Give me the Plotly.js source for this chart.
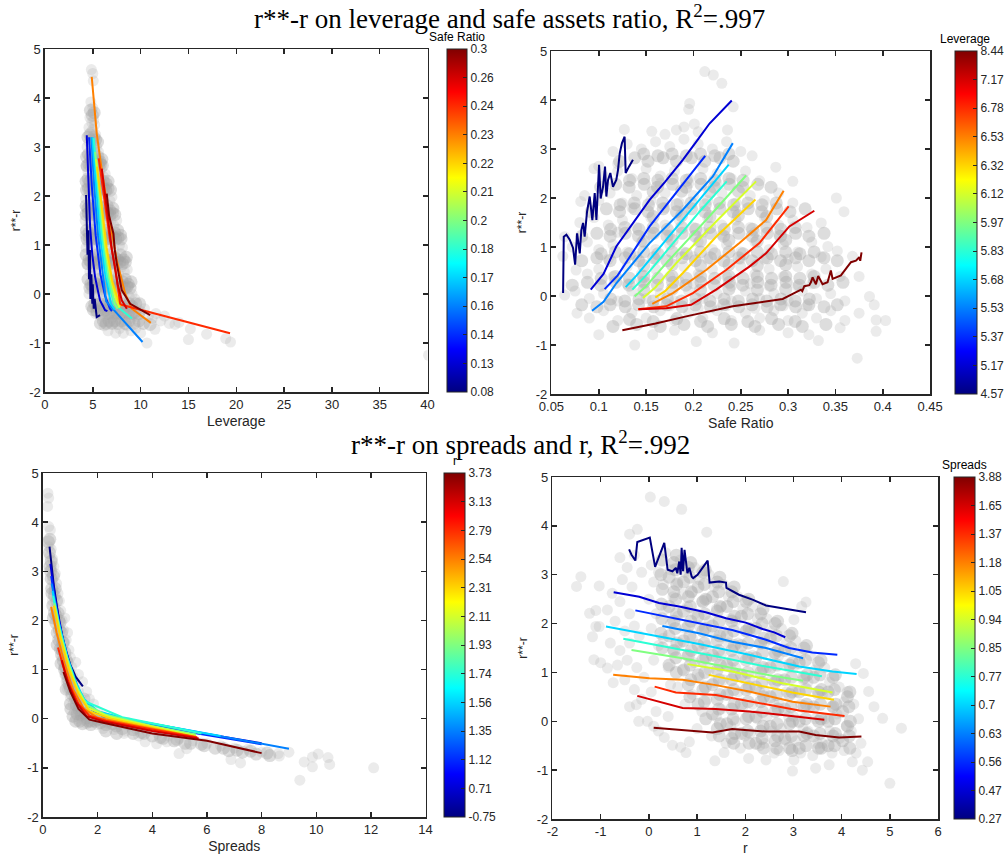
<!DOCTYPE html>
<html><head><meta charset="utf-8">
<script src="https://cdn.plot.ly/plotly-3.0.1.min.js"></script>
<style>body{margin:0;background:#fff}#chart{width:1008px;height:863px}</style>
</head><body><div id="chart"></div>
<script>
// ---------- tick labels ----------
const yTickVals = [-2,-1,0,1,2,3,4,5];
const levTicks = [0,5,10,15,20,25,30,35,40];
const safeTicks = [0.05,0.1,0.15,0.2,0.25,0.3,0.35,0.4,0.45];
const sprTicks = [0,2,4,6,8,10,12,14];
const rTicks = [-2,-1,0,1,2,3,4,5,6];
// colorbar labels (bottom -> top)
const cbSafeLabels = ['0.08','0.13','0.14','0.16','0.17','0.18','0.2','0.21','0.22','0.23','0.24','0.26','0.3'];
const cbLevLabels = ['4.57','5.17','5.37','5.53','5.68','5.83','5.97','6.12','6.32','6.53','6.78','7.17','8.44'];
const cbRLabels = ['-0.75','0.71','1.12','1.35','1.56','1.74','1.93','2.11','2.31','2.54','2.79','3.13','3.73'];
const cbSprLabels = ['0.27','0.47','0.56','0.63','0.7','0.77','0.85','0.94','1.05','1.18','1.37','1.65','3.88'];

// ---------- grey scatter: r**-r vs leverage ----------
const levPts = [[4.85,4.58],[5.0,4.5],[5.05,4.35],[4.8,3.92],[5.0,3.8],[4.7,3.6],[4.9,3.5],[5.1,3.55],[4.6,3.4],[4.8,3.3],[5.0,3.35],[5.2,3.45],[5.3,3.25],
[4.4,3.0],[4.6,3.1],[4.8,3.0],[5.0,2.95],[5.2,3.05],[5.4,3.0],[5.6,2.9],
[4.3,2.6],[4.5,2.5],[4.7,2.7],[4.9,2.55],[5.1,2.6],[5.3,2.5],[5.5,2.65],[5.7,2.5],[5.9,2.55],[6.1,2.4],[6.3,2.45],
[4.25,1.95],[4.4,2.2],[4.6,2.0],[4.8,2.1],[5.0,1.95],[5.2,2.15],[5.4,2.0],[5.6,2.1],[5.8,1.9],[6.0,2.05],[6.2,1.95],[6.5,2.1],[6.8,1.9],[7.0,1.98],
[4.2,1.5],[4.4,1.65],[4.6,1.45],[4.8,1.6],[5.0,1.5],[5.2,1.4],[5.5,1.6],[5.8,1.5],[6.0,1.35],[6.3,1.55],[6.6,1.45],[6.9,1.5],[7.2,1.4],[7.5,1.5],
[4.2,1.2],[4.3,0.95],[4.5,1.05],[4.8,0.9],[5.1,1.1],[5.4,0.95],[5.7,1.05],[6.0,0.9],[6.3,1.1],[6.6,0.95],[6.9,1.05],[7.2,0.9],[7.5,1.1],[7.8,1.0],[8.1,0.95],
[4.4,0.6],[4.7,0.45],[5.0,0.55],[5.3,0.4],[5.6,0.6],[5.9,0.45],[6.2,0.55],[6.5,0.4],[6.8,0.6],[7.1,0.45],[7.4,0.5],[7.7,0.4],[8.0,0.55],[8.3,0.45],[8.6,0.5],
[4.6,0.0],[4.9,0.1],[5.2,-0.05],[5.5,0.05],[5.8,-0.1],[6.1,0.05],[6.4,-0.05],[6.7,0.1],[7.0,-0.05],[7.3,0.05],[7.6,-0.1],[7.9,0.05],[8.2,-0.05],[8.5,0.1],[8.8,-0.05],[9.1,0.0],[9.4,-0.1],
[5.3,-0.4],[5.6,-0.3],[5.9,-0.45],[6.2,-0.35],[6.5,-0.5],[6.8,-0.3],[7.1,-0.45],[7.4,-0.35],[7.7,-0.5],[8.0,-0.3],[8.3,-0.45],[8.6,-0.35],[8.9,-0.5],[9.2,-0.3],[9.6,-0.45],[10.0,-0.35],[10.4,-0.3],[10.8,-0.45],[11.2,-0.5],[11.6,-0.4],[12.1,-0.55],[12.5,-0.45],[13.0,-0.6],[13.6,-0.62],[14.0,-0.58],
[6.2,-0.65],[6.6,-0.75],[7.0,-0.6],[7.4,-0.8],[7.8,-0.7],[8.2,-0.8],[8.6,-0.65],[9.0,-0.75],[9.5,-0.7],[10.0,-0.8],[10.66,-1.0],[11.5,-0.72],[15.2,-0.71],[15.0,-0.93],[16.9,-0.82],[18.9,-0.91],[19.4,-0.98],[40.1,-1.25]];
const levPtsCore = [[4.75,3.75],[4.95,3.65],[5.15,3.7],
[4.5,3.2],[4.7,3.25],[4.9,3.15],[5.1,3.2],[5.3,3.15],[5.5,3.1],
[4.35,2.8],[4.55,2.85],[4.75,2.8],[4.95,2.75],[5.15,2.85],[5.35,2.75],[5.55,2.8],[5.75,2.7],[5.95,2.75],
[4.3,2.3],[4.5,2.35],[4.7,2.3],[4.9,2.35],[5.1,2.3],[5.3,2.35],[5.5,2.3],[5.7,2.35],[5.9,2.25],[6.1,2.3],[6.4,2.25],[6.6,2.3],
[4.3,1.8],[4.5,1.75],[4.7,1.8],[4.9,1.75],[5.1,1.8],[5.35,1.75],[5.65,1.8],[5.95,1.7],[6.2,1.75],[6.5,1.8],[6.8,1.7],[7.1,1.75],
[4.35,1.3],[4.6,1.25],[4.9,1.3],[5.2,1.2],[5.5,1.3],[5.8,1.25],[6.1,1.2],[6.4,1.3],[6.7,1.25],[7.0,1.2],[7.3,1.25],[7.6,1.3],[7.9,1.2],
[4.3,0.8],[4.6,0.7],[4.9,0.75],[5.2,0.7],[5.5,0.8],[5.8,0.7],[6.1,0.75],[6.4,0.7],[6.7,0.8],[7.0,0.7],[7.3,0.75],[7.6,0.7],[7.9,0.8],[8.2,0.7],[8.5,0.75],
[4.5,0.3],[4.8,0.2],[5.1,0.25],[5.4,0.2],[5.7,0.3],[6.0,0.2],[6.3,0.25],[6.6,0.3],[6.9,0.2],[7.2,0.25],[7.5,0.3],[7.8,0.2],[8.1,0.25],[8.4,0.3],[8.7,0.2],[9.0,0.25],
[4.9,-0.25],[5.2,-0.2],[5.5,-0.25],[5.8,-0.2],[6.1,-0.25],[6.4,-0.2],[6.7,-0.25],[7.0,-0.2],[7.3,-0.25],[7.6,-0.2],[7.9,-0.25],[8.2,-0.2],[8.5,-0.25],[8.8,-0.2],[9.1,-0.25],[9.5,-0.2],[9.9,-0.2],
[5.8,-0.6],[6.1,-0.55],[6.4,-0.6],[6.7,-0.55],[7.0,-0.6],[7.3,-0.55],[7.6,-0.6],[8.0,-0.55],[8.4,-0.6],[8.8,-0.55],[9.3,-0.6],[9.8,-0.55],[10.3,-0.6],[11.0,-0.62]];
const levPtsDense = [[4.4,2.62],[4.6,2.65],[4.8,2.62],[5.0,2.65],[5.2,2.62],[5.4,2.65],[5.6,2.62],[5.8,2.65],[6.0,2.62],
[4.35,2.12],[4.55,2.15],[4.75,2.12],[4.95,2.15],[5.15,2.12],[5.35,2.15],[5.55,2.12],[5.75,2.15],[5.95,2.12],[6.15,2.15],[6.35,2.12],[6.6,2.15],[6.85,2.12],
[4.3,1.62],[4.55,1.65],[4.8,1.62],[5.05,1.65],[5.3,1.62],[5.55,1.65],[5.8,1.62],[6.05,1.65],[6.3,1.62],[6.55,1.65],[6.8,1.62],[7.05,1.65],[7.3,1.62],
[4.4,1.12],[4.65,1.15],[4.9,1.12],[5.15,1.15],[5.4,1.12],[5.65,1.15],[5.9,1.12],[6.15,1.15],[6.4,1.12],[6.65,1.15],[6.9,1.12],[7.15,1.15],[7.4,1.12],[7.65,1.15],[7.95,1.12],
[4.5,0.62],[4.8,0.65],[5.1,0.62],[5.4,0.65],[5.7,0.62],[6.0,0.65],[6.3,0.62],[6.6,0.65],[6.9,0.62],[7.2,0.65],[7.5,0.62],[7.8,0.65],[8.1,0.62],[8.4,0.65],
[4.7,0.12],[5.0,0.15],[5.3,0.12],[5.6,0.15],[5.9,0.12],[6.2,0.15],[6.5,0.12],[6.8,0.15],[7.1,0.12],[7.4,0.15],[7.7,0.12],[8.0,0.15],[8.3,0.12],[8.6,0.15],[8.9,0.12],
[5.05,-0.32],[5.45,-0.35],[5.75,-0.32],[6.05,-0.35],[6.35,-0.32],[6.65,-0.4],[6.95,-0.37],[7.25,-0.4],[7.55,-0.37],[7.85,-0.4],[8.15,-0.37],[8.45,-0.4],[8.75,-0.37],[9.05,-0.4],[9.4,-0.37],[9.8,-0.4]];

// ---------- grey scatter: r**-r vs safe ratio ----------
const safePts = [[0.127,3.40],[0.156,3.36],[0.182,3.39],[0.195,3.81],[0.196,3.93],[0.201,3.51],[0.236,3.39],[0.242,3.86],[0.212,4.58],[0.221,4.51],[0.230,4.34],[0.17,3.3],[0.19,3.45],[0.205,3.35],
[0.115,2.95],[0.13,3.1],[0.145,3.0],[0.16,3.15],[0.175,3.05],[0.19,3.2],[0.205,3.1],[0.22,3.0],[0.235,3.15],[0.25,2.95],[0.10,2.65],[0.12,2.7],
[0.095,2.6],[0.105,2.45],[0.12,2.55],[0.135,2.4],[0.15,2.6],[0.165,2.45],[0.18,2.55],[0.195,2.4],[0.21,2.6],[0.225,2.5],[0.24,2.4],[0.255,2.55],[0.262,2.86],[0.27,2.35],[0.287,2.63],
[0.085,2.05],[0.1,1.95],[0.112,2.1],[0.125,1.9],[0.14,2.05],[0.155,1.95],[0.17,2.1],[0.185,1.9],[0.2,2.05],[0.215,1.95],[0.23,2.1],[0.245,1.9],[0.26,2.05],[0.275,1.95],[0.29,2.1],[0.305,2.34],[0.305,1.9],[0.351,2.0],[0.359,1.72],[0.081,1.93],
[0.08,1.5],[0.095,1.6],[0.11,1.45],[0.125,1.55],[0.14,1.4],[0.155,1.6],[0.17,1.45],[0.185,1.55],[0.2,1.4],[0.215,1.6],[0.23,1.45],[0.245,1.55],[0.26,1.4],[0.275,1.6],[0.29,1.45],[0.305,1.55],[0.32,1.4],[0.335,1.49],[0.064,1.21],
[0.072,1.0],[0.088,1.1],[0.1,0.95],[0.115,1.05],[0.13,0.9],[0.145,1.1],[0.16,0.95],[0.175,1.05],[0.19,0.9],[0.205,1.1],[0.22,0.95],[0.235,1.05],[0.25,0.9],[0.265,1.1],[0.28,0.95],[0.295,1.05],[0.31,0.9],[0.325,1.1],[0.342,1.01],[0.352,0.92],[0.368,0.81],[0.062,0.81],
[0.076,0.53],[0.088,0.45],[0.1,0.55],[0.115,0.4],[0.13,0.6],[0.145,0.45],[0.16,0.55],[0.175,0.4],[0.19,0.6],[0.205,0.45],[0.22,0.55],[0.235,0.4],[0.25,0.6],[0.265,0.45],[0.28,0.55],[0.295,0.4],[0.31,0.6],[0.325,0.45],[0.34,0.55],[0.355,0.4],[0.375,0.40],
[0.064,0.02],[0.075,0.1],[0.09,-0.05],[0.105,0.05],[0.12,-0.1],[0.135,0.1],[0.15,-0.05],[0.165,0.05],[0.18,-0.1],[0.195,0.1],[0.21,-0.05],[0.225,0.05],[0.24,-0.1],[0.255,0.1],[0.27,-0.05],[0.285,0.05],[0.3,-0.1],[0.315,0.1],[0.33,-0.05],[0.345,0.05],[0.36,-0.1],[0.386,-0.01],[0.391,-0.18],
[0.077,-0.35],[0.09,-0.45],[0.105,-0.3],[0.12,-0.5],[0.135,-0.35],[0.15,-0.45],[0.165,-0.3],[0.18,-0.5],[0.195,-0.35],[0.21,-0.45],[0.225,-0.3],[0.24,-0.5],[0.255,-0.35],[0.27,-0.45],[0.285,-0.3],[0.3,-0.5],[0.315,-0.35],[0.33,-0.45],[0.345,-0.3],[0.36,-0.5],[0.375,-0.35],[0.393,-0.49],[0.403,-0.50],
[0.100,-0.79],[0.138,-1.0],[0.157,-0.79],[0.18,-0.7],[0.203,-0.93],[0.22,-0.75],[0.243,-0.96],[0.27,-0.7],[0.3,-0.75],[0.322,-0.79],[0.332,-0.91],[0.355,-0.65],[0.393,-0.72],[0.373,-1.27],
[0.145,0.3],[0.16,0.75],[0.175,1.25],[0.19,1.75],[0.2,0.25],[0.215,0.75],[0.23,1.25],[0.245,1.75],[0.26,0.25],[0.275,0.75],[0.29,1.25],[0.155,1.25],[0.17,1.8],[0.185,0.3],[0.2,0.8],[0.21,1.3],[0.225,2.3],[0.24,0.2],[0.25,0.75],[0.265,1.3],[0.28,0.2],[0.3,0.75],[0.31,0.2],[0.13,0.25],[0.14,0.8],[0.12,1.3],[0.135,1.8],[0.11,0.75],[0.195,2.3],[0.165,2.3],[0.235,-0.2],[0.205,-0.25],[0.175,-0.2],[0.265,-0.25],[0.295,-0.2],[0.325,0.25],[0.335,0.8],[0.32,-0.2]];
const safePtsCore = [[0.122,2.75],[0.138,2.82],[0.152,2.75],[0.168,2.82],[0.182,2.75],[0.198,2.82],[0.212,2.75],[0.228,2.82],[0.242,2.75],
[0.102,2.22],[0.118,2.28],[0.132,2.22],[0.148,2.28],[0.162,2.22],[0.178,2.28],[0.192,2.22],[0.208,2.28],[0.222,2.22],[0.238,2.28],[0.252,2.22],[0.268,2.28],[0.282,2.22],
[0.092,1.72],[0.108,1.78],[0.122,1.72],[0.138,1.78],[0.152,1.72],[0.168,1.78],[0.182,1.72],[0.198,1.78],[0.212,1.72],[0.228,1.78],[0.242,1.72],[0.258,1.78],[0.272,1.72],[0.288,1.78],[0.302,1.72],[0.318,1.78],
[0.082,1.22],[0.098,1.28],[0.112,1.22],[0.128,1.28],[0.142,1.22],[0.158,1.28],[0.172,1.22],[0.188,1.28],[0.202,1.22],[0.218,1.28],[0.232,1.22],[0.248,1.28],[0.262,1.22],[0.278,1.28],[0.292,1.22],[0.308,1.28],[0.322,1.22],[0.338,1.28],
[0.082,0.72],[0.098,0.78],[0.112,0.72],[0.128,0.78],[0.142,0.72],[0.158,0.78],[0.172,0.72],[0.188,0.78],[0.202,0.72],[0.218,0.78],[0.232,0.72],[0.248,0.78],[0.262,0.72],[0.278,0.78],[0.292,0.72],[0.308,0.78],[0.322,0.72],[0.338,0.78],[0.352,0.72],
[0.072,0.22],[0.088,0.28],[0.102,0.22],[0.118,0.28],[0.132,0.22],[0.148,0.28],[0.162,0.22],[0.178,0.28],[0.192,0.22],[0.208,0.28],[0.222,0.22],[0.238,0.28],[0.252,0.22],[0.268,0.28],[0.282,0.22],[0.298,0.28],[0.312,0.22],[0.328,0.28],[0.342,0.22],[0.358,0.28],
[0.082,-0.18],[0.098,-0.22],[0.112,-0.18],[0.128,-0.22],[0.142,-0.18],[0.158,-0.22],[0.172,-0.18],[0.188,-0.22],[0.202,-0.18],[0.218,-0.22],[0.232,-0.18],[0.248,-0.22],[0.262,-0.18],[0.278,-0.22],[0.292,-0.18],[0.308,-0.22],[0.322,-0.18],[0.338,-0.22],[0.352,-0.18],
[0.115,-0.62],[0.14,-0.58],[0.165,-0.62],[0.19,-0.58],[0.215,-0.62],[0.24,-0.58],[0.265,-0.62],[0.29,-0.58],[0.315,-0.62],[0.34,-0.58]];
const safePtsDense = [[0.1475,2.9],[0.1625,2.86],[0.1775,2.9],[0.1925,2.86],[0.2075,2.9],[0.2225,2.86],[0.2375,2.9],
[0.1325,2.36],[0.1475,2.4],[0.1625,2.36],[0.1775,2.4],[0.1925,2.36],[0.2075,2.4],[0.2225,2.36],[0.2375,2.4],[0.2525,2.36],
[0.1225,1.86],[0.1375,1.9],[0.1525,1.86],[0.1675,1.9],[0.1825,1.86],[0.1975,1.9],[0.2125,1.86],[0.2275,1.9],[0.2425,1.86],[0.2575,1.9],[0.2725,1.86],[0.2875,1.9],
[0.1125,1.36],[0.1275,1.4],[0.1425,1.36],[0.1575,1.4],[0.1725,1.36],[0.1875,1.4],[0.2025,1.36],[0.2175,1.4],[0.2325,1.36],[0.2475,1.4],[0.2625,1.36],[0.2775,1.4],[0.2925,1.36],[0.3075,1.4],
[0.1025,0.86],[0.1175,0.9],[0.1325,0.86],[0.1475,0.9],[0.1625,0.86],[0.1775,0.9],[0.1925,0.86],[0.2075,0.9],[0.2225,0.86],[0.2375,0.9],[0.2525,0.86],[0.2675,0.9],[0.2825,0.86],[0.2975,0.9],[0.3125,0.86],[0.3275,0.9],
[0.1025,0.36],[0.1175,0.4],[0.1325,0.36],[0.1475,0.4],[0.1625,0.36],[0.1775,0.4],[0.1925,0.36],[0.2075,0.4],[0.2225,0.36],[0.2375,0.4],[0.2525,0.36],[0.2675,0.4],[0.2825,0.36],[0.2975,0.4],[0.3125,0.36],[0.3275,0.4],
[0.1125,-0.06],[0.1275,-0.1],[0.1425,-0.06],[0.1575,-0.1],[0.1725,-0.06],[0.1875,-0.1],[0.2025,-0.06],[0.2175,-0.1],[0.2325,-0.06],[0.2475,-0.1],[0.2625,-0.06],[0.2775,-0.1],[0.2925,-0.06],[0.3075,-0.1],[0.3225,-0.06],
[0.1325,-0.48],[0.1575,-0.52],[0.1825,-0.46],[0.2075,-0.52],[0.2325,-0.46],[0.2575,-0.52],[0.2825,-0.46],[0.3075,-0.52],
[0.1575,1.62],[0.1875,1.64],[0.2175,1.62],[0.2475,1.64],[0.2775,1.62],
[0.1475,1.12],[0.1775,1.14],[0.2075,1.12],[0.2375,1.14],[0.2675,1.12],[0.2975,1.14],
[0.1475,0.62],[0.1775,0.64],[0.2075,0.62],[0.2375,0.64],[0.2675,0.62],[0.2975,0.64],
[0.1475,0.12],[0.1775,0.14],[0.2075,0.12],[0.2375,0.14],[0.2675,0.12],[0.2975,0.14],
[0.1575,2.12],[0.1875,2.14],[0.2175,2.12],[0.2475,2.14]];

// ---------- grey scatter: r**-r vs spreads ----------
const sprPts = [[0.18,4.59],[0.21,4.49],[0.17,4.32],[0.21,3.91],[0.27,3.84],[0.22,3.5],[0.3,3.45],[0.25,3.3],[0.35,3.25],[0.3,3.05],[0.4,3.1],[0.45,2.95],[0.35,2.8],[0.5,2.75],[0.4,2.6],[0.55,2.55],[0.35,2.4],[0.6,2.4],[0.45,2.25],[0.65,2.2],[0.5,2.05],[0.7,2.0],[0.8,2.05],[0.55,1.85],[0.75,1.8],[0.9,1.75],[0.6,1.65],[0.85,1.6],[0.65,1.45],[0.95,1.4],[0.7,1.25],[1.0,1.25],[1.2,1.15],[0.75,1.05],[1.05,1.05],[0.8,0.9],[1.1,0.85],[1.3,0.9],[0.85,0.75],[1.2,0.7],[1.45,0.75],[0.9,0.6],[1.3,0.55],[1.6,0.55],[1.0,0.45],[1.4,0.4],[1.7,0.4],[1.1,0.3],[1.5,0.25],[1.85,0.3],[1.15,0.15],[1.6,0.12],[2.0,0.15],[1.2,0.0],[1.5,-0.02],[1.8,0.02],[2.2,0.05],[2.5,0.0],[1.6,-0.1],[2.0,-0.12],[2.4,-0.1],[2.8,-0.12],[3.2,-0.15],[2.2,-0.2],[2.6,-0.22],[3.0,-0.25],[3.4,-0.2],[3.8,-0.25],[4.2,-0.3],[2.97,-0.3],[3.5,-0.35],[3.74,-0.47],[4.16,-0.51],[4.53,-0.47],[4.6,-0.35],[5.0,-0.4],[5.5,-0.45],[6.0,-0.5],[6.5,-0.55],[7.0,-0.6],[7.5,-0.62],[8.0,-0.68],[4.98,-0.71],[5.26,-0.61],[6.88,-0.83],[7.23,-0.9],[8.61,-0.71],[8.65,-0.76],[9.0,-0.68],[9.4,-1.25],[9.56,-0.88],[9.86,-0.98],[9.86,-0.78],[10.07,-0.72],[10.43,-0.79],[10.49,-0.93],[12.1,-1.0]];
const sprPtsCore = [[0.25,3.65],[0.3,3.2],[0.38,2.9],[0.45,2.65],[0.5,2.4],[0.55,2.15],[0.62,1.95],[0.68,1.75],[0.75,1.55],[0.8,1.35],[0.88,1.15],[0.95,0.95],[1.05,0.75],[1.15,0.55],[1.25,0.4],[1.35,0.25],[1.45,0.12],[1.6,0.02],[1.75,-0.05],[1.9,-0.05],[2.1,-0.08],[2.3,-0.12],
[0.28,3.0],[0.42,2.5],[0.58,2.0],[0.72,1.55],[0.85,1.2],[0.98,0.85],[1.12,0.6],[1.25,0.1],[1.35,-0.05],[1.5,0.4],[1.7,0.15],[2.0,-0.02],[2.7,-0.15],[3.1,-0.1],[3.3,-0.3],[3.6,-0.28],[4.0,-0.35],[4.4,-0.4],[4.8,-0.45],[5.2,-0.5],[5.8,-0.52],[6.3,-0.6],[6.8,-0.65],[7.3,-0.68],[7.8,-0.72],[8.3,-0.75],[0.32,2.65],[0.48,2.1],[0.6,1.8],[0.7,1.4],[0.82,1.05],[0.95,0.7],[1.0,0.3],[1.1,0.05]];
const sprPtsDense = [[0.2,3.6],[0.24,3.38],[0.26,3.1],[0.3,2.85],[0.33,2.55],[0.36,2.3],[0.42,2.15],[0.47,1.95],[0.52,1.75],[0.58,1.6],[0.63,1.42],[0.68,1.3],[0.74,1.18],[0.79,1.0],[0.87,0.9],[0.92,0.8],[1.0,0.62],[1.07,0.5],[1.18,0.42],[1.22,0.28],[1.32,0.18],[1.4,0.08],[1.55,0.1],[1.65,-0.05],[1.95,0.05],[2.1,0.0],[2.35,-0.05],[2.55,-0.1],[2.9,-0.2],[3.3,-0.22],[3.7,-0.3],[4.3,-0.38],[4.9,-0.42],[5.4,-0.5],[5.9,-0.55],[6.6,-0.6],[7.1,-0.64],[7.6,-0.66],[8.2,-0.7],[0.38,2.05],[0.52,1.5],[0.66,1.12],[0.85,0.6],[1.02,0.2],[1.2,-0.05],[1.45,-0.1],[1.75,-0.12],[2.3,-0.25],[2.7,-0.3]];

// ---------- grey scatter: r**-r vs r ----------
const rPts = [[0.03,4.59],[0.32,4.50],[0.68,4.34],[1.20,3.87],[-0.40,3.83],[-0.24,3.93],[-1.41,2.96],[-1.50,2.76],[-1.03,2.77],[-0.76,2.62],[-1.23,2.21],[-1.10,2.27],[-0.86,2.28],[-1.17,1.73],[-1.10,1.94],[-1.03,1.94],[-1.14,1.26],[-1.0,1.20],[-0.86,1.09],[-0.74,0.79],[-0.26,0.34],[-0.21,0.0],[-0.03,0.0],[0.32,-0.33],[0.49,-0.49],[0.66,-0.53],[0.77,-0.64],[0.84,-0.42],[1.37,-0.81],[1.56,-0.64],[2.07,-0.76],[2.43,-0.79],[2.98,-1.02],[3.01,-0.79],[3.46,-0.96],[3.74,-0.89],[4.22,-0.83],[4.43,-1.0],[4.54,-0.83],[5.0,-1.27],[5.24,-0.14],[4.85,0.06],[4.67,0.30],[4.56,0.61],[4.29,1.18],[4.45,0.98],[4.12,0.61],[3.26,2.44],[3.17,2.35],[3.01,2.08],[2.79,2.86],
[-0.6,3.35],[-0.45,3.15],[-0.3,3.4],[-0.15,3.05],[-0.55,2.9],[-0.35,2.75],[-0.6,2.45],[-0.4,2.2],[-0.7,2.05],[-0.5,1.85],[-0.3,1.95],[-0.8,1.6],[-0.6,1.45],[-0.4,1.6],[-0.2,1.75],[-0.65,1.15],[-0.45,1.25],[-0.25,1.1],[-0.5,0.85],[-0.3,0.65],[-0.1,0.9],[-0.4,0.3],[-0.15,0.45],[0.05,0.6],[0.15,0.2],[0.2,-0.2],[0.4,0.1],[0.1,-0.1],
[0.05,3.2],[0.1,2.85],[0.0,2.5],[0.15,2.2],[0.05,1.9],[0.2,1.55],[0.1,1.25],[0.2,3.05],
[0.35,3.45],[0.45,3.1],[0.3,2.8],[0.5,2.55],[0.35,2.3],[0.45,2.0],[0.3,1.7],[0.5,1.45],[0.4,1.1],[0.45,0.75],
[0.65,3.3],[0.75,3.05],[0.6,2.85],[0.7,2.6],[0.8,2.35],[0.6,2.15],[0.75,1.9],[0.65,1.6],[0.8,1.35],[0.7,1.05],[0.6,0.7],[0.75,0.35],
[0.95,3.15],[1.05,2.9],[0.9,2.65],[1.1,2.45],[0.95,2.2],[1.05,1.95],[0.9,1.7],[1.1,1.45],[0.95,1.2],[1.05,0.9],[0.9,0.55],[1.1,0.2],[1.0,-0.15],
[1.25,3.0],[1.35,2.75],[1.2,2.5],[1.4,2.3],[1.25,2.05],[1.35,1.8],[1.2,1.55],[1.4,1.3],[1.25,1.05],[1.35,0.8],[1.2,0.45],[1.4,0.1],[1.3,-0.3],
[1.55,2.8],[1.65,2.55],[1.5,2.35],[1.7,2.1],[1.55,1.85],[1.65,1.6],[1.5,1.35],[1.7,1.1],[1.55,0.85],[1.65,0.55],[1.5,0.25],[1.7,-0.1],[1.6,-0.45],
[1.85,2.55],[1.95,2.3],[1.8,2.05],[2.0,1.85],[1.85,1.6],[1.95,1.35],[1.8,1.1],[2.0,0.85],[1.85,0.6],[1.95,0.3],[1.8,0.0],[2.0,-0.3],[1.9,-0.55],
[2.15,2.35],[2.25,2.1],[2.1,1.85],[2.3,1.6],[2.15,1.35],[2.25,1.1],[2.1,0.85],[2.3,0.6],[2.15,0.35],[2.25,0.05],[2.1,-0.25],[2.3,-0.5],
[2.45,2.1],[2.55,1.85],[2.4,1.6],[2.6,1.35],[2.45,1.1],[2.55,0.85],[2.4,0.6],[2.6,0.35],[2.45,0.1],[2.55,-0.2],[2.4,-0.45],[2.6,-0.65],
[2.75,1.9],[2.85,1.6],[2.7,1.35],[2.9,1.1],[2.75,0.85],[2.85,0.6],[2.7,0.35],[2.9,0.1],[2.75,-0.15],[2.85,-0.4],[2.7,-0.6],
[3.05,1.65],[3.15,1.35],[3.0,1.1],[3.2,0.85],[3.05,0.6],[3.15,0.35],[3.0,0.1],[3.2,-0.15],[3.05,-0.4],[3.15,-0.65],
[3.35,1.35],[3.45,1.05],[3.3,0.8],[3.5,0.55],[3.35,0.3],[3.45,0.05],[3.3,-0.2],[3.5,-0.45],[3.4,-0.7],
[3.65,1.1],[3.75,0.8],[3.6,0.55],[3.8,0.3],[3.65,0.05],[3.75,-0.2],[3.6,-0.45],[3.8,-0.65],
[3.95,0.7],[4.05,0.4],[3.9,0.15],[4.1,-0.1],[3.95,-0.35],[4.05,-0.6],
[4.25,0.35],[4.35,0.05],[4.2,-0.2],[4.4,-0.45],[4.3,-0.65]];
const rPtsCore = [[0.52,3.25],[0.42,2.95],[0.52,2.65],[0.42,2.35],[0.52,2.05],[0.42,1.75],[0.52,1.45],[0.42,1.15],
[0.82,3.15],[0.72,2.85],[0.82,2.55],[0.72,2.25],[0.82,1.95],[0.72,1.65],[0.82,1.35],[0.72,1.05],[0.82,0.75],
[1.12,3.05],[1.02,2.75],[1.12,2.45],[1.02,2.15],[1.12,1.85],[1.02,1.55],[1.12,1.25],[1.02,0.95],[1.12,0.65],[1.02,0.35],
[1.42,2.85],[1.32,2.55],[1.42,2.25],[1.32,1.95],[1.42,1.65],[1.32,1.35],[1.42,1.05],[1.32,0.75],[1.42,0.45],[1.32,0.15],[1.42,-0.15],
[1.72,2.65],[1.62,2.35],[1.72,2.05],[1.62,1.75],[1.72,1.45],[1.62,1.15],[1.72,0.85],[1.62,0.55],[1.72,0.25],[1.62,-0.05],[1.72,-0.35],
[2.02,2.45],[1.92,2.15],[2.02,1.85],[1.92,1.55],[2.02,1.25],[1.92,0.95],[2.02,0.65],[1.92,0.35],[2.02,0.05],[1.92,-0.25],
[2.32,2.2],[2.22,1.9],[2.32,1.6],[2.22,1.3],[2.32,1.0],[2.22,0.7],[2.32,0.4],[2.22,0.1],[2.32,-0.2],[2.22,-0.45],
[2.62,2.0],[2.52,1.7],[2.62,1.4],[2.52,1.1],[2.62,0.8],[2.52,0.5],[2.62,0.2],[2.52,-0.1],[2.62,-0.4],
[2.92,1.75],[2.82,1.45],[2.92,1.15],[2.82,0.85],[2.92,0.55],[2.82,0.25],[2.92,-0.05],[2.82,-0.35],[2.92,-0.55],
[3.22,1.5],[3.12,1.2],[3.22,0.9],[3.12,0.6],[3.22,0.3],[3.12,0.0],[3.22,-0.3],[3.12,-0.55],
[3.52,1.2],[3.42,0.9],[3.52,0.6],[3.42,0.3],[3.52,0.0],[3.42,-0.3],[3.52,-0.55],
[3.82,0.9],[3.72,0.6],[3.82,0.3],[3.72,0.0],[3.82,-0.3],[3.72,-0.5],
[4.12,0.5],[4.02,0.2],[4.12,-0.1],[4.02,-0.4]];
const rPtsDense = [[0.27,3.3],[0.25,3.0],[0.28,2.7],[0.26,2.4],[0.27,2.1],[0.25,1.8],[0.28,1.5],
[0.57,3.4],[0.55,3.1],[0.58,2.8],[0.56,2.5],[0.57,2.2],[0.55,1.9],[0.58,1.6],[0.56,1.3],[0.57,1.0],
[0.87,3.25],[0.85,2.95],[0.88,2.65],[0.86,2.35],[0.87,2.05],[0.85,1.75],[0.88,1.45],[0.86,1.15],[0.87,0.85],[0.85,0.5],
[1.17,3.1],[1.15,2.8],[1.18,2.5],[1.16,2.2],[1.17,1.9],[1.15,1.6],[1.18,1.3],[1.16,1.0],[1.17,0.7],[1.15,0.4],[1.18,0.05],
[1.47,2.95],[1.45,2.65],[1.48,2.35],[1.46,2.05],[1.47,1.75],[1.45,1.45],[1.48,1.15],[1.46,0.85],[1.47,0.55],[1.45,0.25],[1.48,-0.05],[1.46,-0.3],
[1.77,2.75],[1.75,2.45],[1.78,2.15],[1.76,1.85],[1.77,1.55],[1.75,1.25],[1.78,0.95],[1.76,0.65],[1.77,0.35],[1.75,0.05],[1.78,-0.25],[1.76,-0.45],
[2.07,2.5],[2.05,2.2],[2.08,1.9],[2.06,1.6],[2.07,1.3],[2.05,1.0],[2.08,0.7],[2.06,0.4],[2.07,0.1],[2.05,-0.2],[2.08,-0.45],
[2.37,2.3],[2.35,2.0],[2.38,1.7],[2.36,1.4],[2.37,1.1],[2.35,0.8],[2.38,0.5],[2.36,0.2],[2.37,-0.1],[2.35,-0.35],[2.38,-0.55],
[2.67,2.05],[2.65,1.75],[2.68,1.45],[2.66,1.15],[2.67,0.85],[2.65,0.55],[2.68,0.25],[2.66,-0.05],[2.67,-0.3],[2.65,-0.55],
[2.97,1.8],[2.95,1.5],[2.98,1.2],[2.96,0.9],[2.97,0.6],[2.95,0.3],[2.98,0.0],[2.96,-0.3],[2.97,-0.6],
[3.27,1.55],[3.25,1.25],[3.28,0.95],[3.26,0.65],[3.27,0.35],[3.25,0.05],[3.28,-0.25],[3.26,-0.5],
[3.57,1.25],[3.55,0.95],[3.58,0.65],[3.56,0.35],[3.57,0.05],[3.55,-0.25],[3.58,-0.55],
[3.87,0.95],[3.85,0.65],[3.88,0.35],[3.86,0.05],[3.87,-0.25],[3.85,-0.5],
[4.17,0.6],[4.15,0.3],[4.18,0.0],[4.16,-0.3],[4.17,-0.55]];

// ---------- coloured lines (13 per panel, one per colour-bar level) ----------
const levLineX = [
[4.30,4.35,4.40,4.45,4.55,4.60,4.70,4.75,4.85,4.95,5.00,5.10,5.20,5.41,5.76],
[4.37,4.55,4.72,4.95,5.24,5.5,5.76,6.29,6.53],
[4.61,4.9,5.3,5.8,6.3,6.8,7.0],
[4.85,5.15,5.55,6.0,6.4,10.2],
[4.95,5.3,5.75,6.3,6.9,7.3],
[5.1,5.5,5.95,6.5,7.2,9.1],
[5.25,5.65,6.15,6.7,7.3,7.6],
[5.35,5.8,6.3,6.9,7.5,7.8],
[5.45,5.9,6.45,7.05,7.7,8.0],
[4.89,5.41,5.94,6.64,7.51,8.38,9.08,11.07],
[5.62,6.2,6.8,7.34,7.86,8.0,19.35],
[5.94,6.5,7.0,7.6,8.03,8.56],
[6.46,6.7,7.16,7.3,7.51,7.8,8.03,8.91,11.0]];
const levLineY = [
[2.02,1.2,1.6,0.8,1.3,0.3,0.9,-0.1,0.4,-0.2,0.2,-0.3,-0.1,-0.47,-0.43],
[3.24,2.3,1.37,0.8,0.35,0.1,-0.13,-0.33,-0.35],
[3.2,2.2,1.2,0.4,-0.05,-0.3,-0.35],
[3.2,2.2,1.2,0.45,-0.15,-0.98],
[3.2,2.3,1.2,0.4,-0.2,-0.32],
[3.18,2.2,1.2,0.35,-0.2,-0.5],
[2.9,2.1,1.1,0.35,-0.2,-0.3],
[2.75,2.0,1.0,0.3,-0.15,-0.28],
[2.6,1.9,0.95,0.25,-0.15,-0.25],
[4.43,3.28,2.53,1.64,0.69,0.01,-0.30,-0.59],
[2.77,1.9,1.1,0.55,-0.2,-0.22,-0.8],
[2.56,1.7,0.9,0.2,-0.13,-0.3],
[2.05,1.6,1.23,0.9,0.62,0.35,0.08,-0.2,-0.43]];

const safeLineX = [
[0.0623,0.0623,0.0630,0.0658,0.0693,0.0728,0.0750,0.0771,0.0792,0.0799,0.0816,0.0834,0.0851,0.0876,0.0904,0.0932,0.0957,0.0975,0.1003,0.1020,0.1045,0.1066,0.1080,0.1098,0.1122,0.1150,0.1185,0.1203,0.1221,0.1245,0.1273,0.1284,0.1319,0.1361],
[0.0915,0.105,0.1185,0.135,0.1537,0.17,0.1888,0.205,0.217,0.2405],
[0.1062,0.12,0.1537,0.1818,0.2124],
[0.0929,0.105,0.1185,0.1537,0.1888,0.2205,0.2416],
[0.1284,0.14,0.1713,0.2064,0.2373],
[0.1354,0.15,0.1713,0.2064,0.2352],
[0.1379,0.15,0.1713,0.2134,0.2556],
[0.1467,0.16,0.1818,0.224,0.2662],
[0.1597,0.17,0.1888,0.224,0.2655],
[0.1565,0.1783,0.2134,0.2486,0.2767,0.2953],
[0.1414,0.1713,0.1994,0.2345,0.2697,0.3006],
[0.1424,0.1713,0.1976,0.224,0.2591,0.2767,0.3013,0.3277],
[0.1249,0.16,0.1959,0.2416,0.2943,0.3136,0.315,0.3171,0.3224,0.3241,0.3259,0.3294,0.3318,0.3364,0.3417,0.3452,0.347,0.3558,0.3664,0.3717,0.3752,0.3762,0.3776]];
const safeLineY = [
[0.06,0.81,1.21,1.25,1.15,0.98,0.64,1.28,1.04,0.87,1.35,1.49,1.21,1.72,2.03,1.55,2.10,1.55,2.68,1.99,2.23,2.64,2.03,2.37,2.51,2.23,2.37,2.57,2.91,3.12,3.25,2.51,2.64,2.78],
[0.13,0.45,1.01,1.45,1.96,2.33,2.78,3.2,3.52,3.99],
[0.14,0.42,1.42,2.10,2.86],
[-0.30,-0.12,0.26,1.08,1.76,2.44,3.12],
[0.18,0.42,1.15,1.96,2.68],
[0.13,0.42,0.91,1.72,2.34],
[-0.01,0.2,0.67,1.55,2.46],
[-0.04,0.18,0.67,1.52,2.34],
[-0.03,0.1,0.47,1.21,1.97],
[-0.16,0.06,0.53,1.08,1.55,2.15],
[-0.27,-0.21,0.06,0.53,1.08,1.83],
[-0.27,-0.25,-0.18,0.13,0.60,0.87,1.42,1.74],
[-0.70,-0.56,-0.40,-0.21,-0.06,0.13,0.1,0.2,0.22,0.28,0.38,0.24,0.41,0.24,0.28,0.52,0.35,0.42,0.69,0.72,0.79,0.72,0.89]];

const sprLineX = [
[0.24,0.4,0.6,0.8,1.0,1.2,1.46],
[0.27,0.45,0.7,1.0,1.3,1.6,2.0,3.0,5.0,8.0],
[0.3,0.5,0.75,1.05,1.4,1.75,2.2,4.0,8.0],
[0.32,0.55,0.8,1.1,1.45,1.9,3.0,6.0,9.0],
[0.35,0.6,0.9,1.2,1.5,2.0,3.0,5.0,6.5],
[0.37,0.6,0.9,1.2,1.55,2.2,2.9,4.5,5.8],
[0.42,0.65,0.95,1.25,1.6,2.3,4.0,5.6],
[0.42,0.65,0.95,1.28,1.65,2.4,4.0,5.6],
[0.4,0.65,0.95,1.3,1.7,2.5,4.0,5.6],
[0.3,0.5,0.8,1.1,1.5,2.0,3.5,5.62],
[0.55,0.75,1.0,1.3,1.7,2.3,4.0,5.65],
[0.69,0.9,1.2,1.6,2.2,4.0,5.7],
[0.75,1.0,1.3,1.7,2.2,4.0,6.0,8.0]];
const sprLineY = [
[3.5,2.7,1.95,1.45,1.1,0.85,0.66],
[3.15,2.45,1.7,1.05,0.6,0.3,0.1,-0.01,-0.22,-0.5],
[2.9,2.2,1.5,0.9,0.45,0.2,0.05,-0.15,-0.52],
[2.75,2.05,1.4,0.85,0.4,0.15,0.0,-0.3,-0.61],
[2.6,1.9,1.25,0.75,0.4,0.15,0.0,-0.2,-0.35],
[2.5,1.85,1.2,0.7,0.35,0.2,0.03,-0.15,-0.3],
[2.35,1.7,1.1,0.62,0.28,0.08,-0.15,-0.32],
[2.3,1.65,1.05,0.57,0.22,0.04,-0.16,-0.35],
[2.3,1.62,1.0,0.5,0.15,0.0,-0.18,-0.38],
[2.28,1.75,1.1,0.6,0.2,0.02,-0.15,-0.37],
[1.45,1.05,0.65,0.3,0.06,-0.04,-0.22,-0.38],
[1.19,0.75,0.35,0.05,-0.05,-0.25,-0.4],
[0.95,0.55,0.2,-0.02,-0.08,-0.3,-0.45,-0.70]];

const rLineX = [
[-0.41,-0.36,-0.28,-0.24,0.02,0.13,0.32,0.39,0.49,0.56,0.59,0.63,0.66,0.68,0.71,0.74,0.80,0.84,0.89,0.92,1.01,1.22,1.26,1.46,1.60,1.61,1.87,2.15,2.43,2.70,2.98,3.26],
[-0.73,-0.20,0.21,0.63,1.18,1.60,2.01,2.36,2.60,2.83],
[-0.28,0.35,1.04,1.73,2.43,2.91,3.39,3.91],
[0.28,1.04,1.73,2.43,3.20],
[-0.89,0.01,1.04,2.08,3.12,3.81,4.31],
[-0.53,0.35,1.39,2.43,3.59],
[-0.36,0.70,1.73,2.56,3.20],
[0.80,1.73,2.77,3.81],
[1.24,2.08,2.98,3.84],
[-0.74,0.01,0.70,1.39,2.08,2.98,3.77],
[0.12,0.56,1.39,2.29,3.12,4.06],
[-0.24,0.21,0.70,1.39,2.08,2.77,3.64],
[0.10,0.77,1.32,1.73,2.43,3.12,3.46,3.95,4.41]];
const rLineY = [
[3.52,3.41,3.29,3.67,3.76,3.16,3.65,3.10,3.07,3.14,3.03,3.27,3.0,3.55,3.07,3.51,3.03,3.14,2.96,2.93,3.0,3.29,2.84,2.86,2.84,2.73,2.59,2.49,2.37,2.32,2.27,2.23],
[2.64,2.55,2.42,2.35,2.23,2.11,2.02,1.89,1.82,1.72],
[2.27,2.14,2.01,1.87,1.67,1.50,1.41,1.36],
[1.95,1.80,1.63,1.50,1.29],
[1.94,1.77,1.58,1.36,1.12,1.02,0.97],
[1.69,1.53,1.33,1.12,0.92],
[1.46,1.29,1.09,0.93,0.83],
[1.17,1.02,0.78,0.59],
[0.95,0.78,0.59,0.44],
[0.95,0.88,0.85,0.74,0.61,0.40,0.30],
[0.71,0.59,0.54,0.37,0.22,0.11],
[0.52,0.40,0.27,0.25,0.20,0.13,0.03],
[-0.13,-0.18,-0.23,-0.16,-0.21,-0.21,-0.28,-0.33,-0.31]];

// ---------- helpers ----------
function jet(t){
  const c = v => Math.round(255*Math.max(0,Math.min(1,v)));
  return 'rgb('+c(1.5-Math.abs(4*t-3))+','+c(1.5-Math.abs(4*t-2))+','+c(1.5-Math.abs(4*t-1))+')';
}
const jetScale = [0,0.125,0.375,0.625,0.875,1].map(t=>[t,jet(t)]);
const W=1008, H=863;
const px = v => v/W, py = v => 1 - v/H;
const AX = '#262626';

const panels = [
  {pts:levPts, core:levPtsCore.concat(levPtsDense), lx:levLineX, ly:levLineY, xr:[0,40], xt:levTicks, xtitle:'Leverage', cbl:cbSafeLabels, cbt:'Safe Ratio',
   dom:[45,428,49,392], cb:[447,467], cbTitle:[457,37]},
  {pts:safePts, core:safePtsCore.concat(safePtsDense), lx:safeLineX, ly:safeLineY, xr:[0.05,0.45], xt:safeTicks, xtitle:'Safe Ratio', cbl:cbLevLabels, cbt:'Leverage',
   dom:[552,931,51,394], cb:[955,977], cbTitle:[966,39]},
  {pts:sprPts, core:sprPtsCore.concat(sprPtsDense), lx:sprLineX, ly:sprLineY, xr:[0,14], xt:sprTicks, xtitle:'Spreads', cbl:cbRLabels, cbt:'r',
   dom:[43,426,473,817], cb:[444,465], cbTitle:[455,461]},
  {pts:rPts, core:rPtsCore.concat(rPtsDense), lx:rLineX, ly:rLineY, xr:[-2,6], xt:rTicks, xtitle:'r', cbl:cbSprLabels, cbt:'Spreads',
   dom:[553,939,477,819], cb:[954,975], cbTitle:[965,465]}
];

const traces = [];
const layout = {
  width:W, height:H, margin:{l:0,r:0,t:0,b:0}, showlegend:false,
  paper_bgcolor:'#fff', plot_bgcolor:'#fff',
  font:{family:'"Liberation Sans", Arial, sans-serif', color:AX, size:13},
  annotations:[]
};
const fmt = v => String(v);

panels.forEach((p,k)=>{
  const n = k===0 ? '' : String(k+1);
  const xa = 'x'+n, ya = 'y'+n;
  const [x0,x1,y0,y1] = p.dom;
  const common = {showline:true, mirror:'ticks', linecolor:AX, linewidth:1.5, ticks:'inside', ticklen:5,
    tickcolor:AX, tickwidth:1.5, showgrid:false, zeroline:false, tickfont:{size:13, color:AX}, fixedrange:true};
  layout['xaxis'+n] = Object.assign({}, common, {domain:[px(x0),px(x1)], range:p.xr, anchor:ya,
    tickmode:'array', tickvals:p.xt, ticktext:p.xt.map(fmt),
    title:{text:p.xtitle, font:{size:14, color:AX}, standoff:5}});
  layout['yaxis'+n] = Object.assign({}, common, {domain:[py(y1),py(y0)], range:[-2,5], anchor:xa,
    tickmode:'array', tickvals:yTickVals, ticktext:yTickVals.map(fmt),
    title:{text:'r**-r', font:{size:12, color:AX}, standoff:6}});
  // dense core of the cloud (many overlapping observations)
  traces.push({type:'scatter', mode:'markers', xaxis:xa, yaxis:ya,
    x:p.core.map(d=>d[0]), y:p.core.map(d=>d[1]),
    marker:{size:13, color:'rgb(160,160,160)', opacity:0.36, line:{width:0}}, hoverinfo:'skip'});
  // sparse part of the cloud
  traces.push({type:'scatter', mode:'markers', xaxis:xa, yaxis:ya,
    x:p.pts.map(d=>d[0]), y:p.pts.map(d=>d[1]),
    marker:{size:11, color:'rgb(175,175,175)', opacity:0.25, line:{width:0}}, hoverinfo:'skip'});
  p.lx.forEach((xs,i)=>{
    traces.push({type:'scatter', mode:'lines', xaxis:xa, yaxis:ya, x:xs, y:p.ly[i],
      line:{color:jet(i/12), width:2}, hoverinfo:'skip'});
  });
  const ticks = p.cbl.map((_,i)=>i);
  traces.push({type:'scatter', mode:'markers', xaxis:xa, yaxis:ya, x:[null,null], y:[null,null],
    hoverinfo:'skip',
    marker:{color:[0,12], cmin:0, cmax:12, colorscale:jetScale, showscale:true,
      colorbar:{x:px(p.cb[0]), xanchor:'left', y:py(y0), yanchor:'top', len:y1-y0, lenmode:'pixels',
        thickness:p.cb[1]-p.cb[0], thicknessmode:'pixels', xpad:0, ypad:0,
        outlinewidth:1, outlinecolor:AX, borderwidth:0,
        ticks:'inside', ticklen:4, tickcolor:AX, tickwidth:1,
        tickmode:'array', tickvals:ticks, ticktext:p.cbl, tickfont:{size:12, color:AX}}}});
  layout.annotations.push({xref:'paper', yref:'paper', x:px(p.cbTitle[0]), y:py(p.cbTitle[1]),
    xanchor:'center', yanchor:'middle', showarrow:false, text:p.cbt, font:{size:12, color:'#000'}});
});

layout.annotations.push({xref:'paper', yref:'paper', x:px(510), y:py(17), xanchor:'center', yanchor:'middle',
  showarrow:false, text:'r**-r on leverage and safe assets ratio, R<sup>2</sup>=.997',
  font:{family:'"Liberation Serif", "DejaVu Serif", serif', size:27, color:'#000'}});
layout.annotations.push({xref:'paper', yref:'paper', x:px(521), y:py(443), xanchor:'center', yanchor:'middle',
  showarrow:false, text:'r**-r on spreads and r, R<sup>2</sup>=.992',
  font:{family:'"Liberation Serif", "DejaVu Serif", serif', size:27, color:'#000'}});

Plotly.newPlot('chart', traces, layout, {staticPlot:true, displayModeBar:false});
</script></body></html>
